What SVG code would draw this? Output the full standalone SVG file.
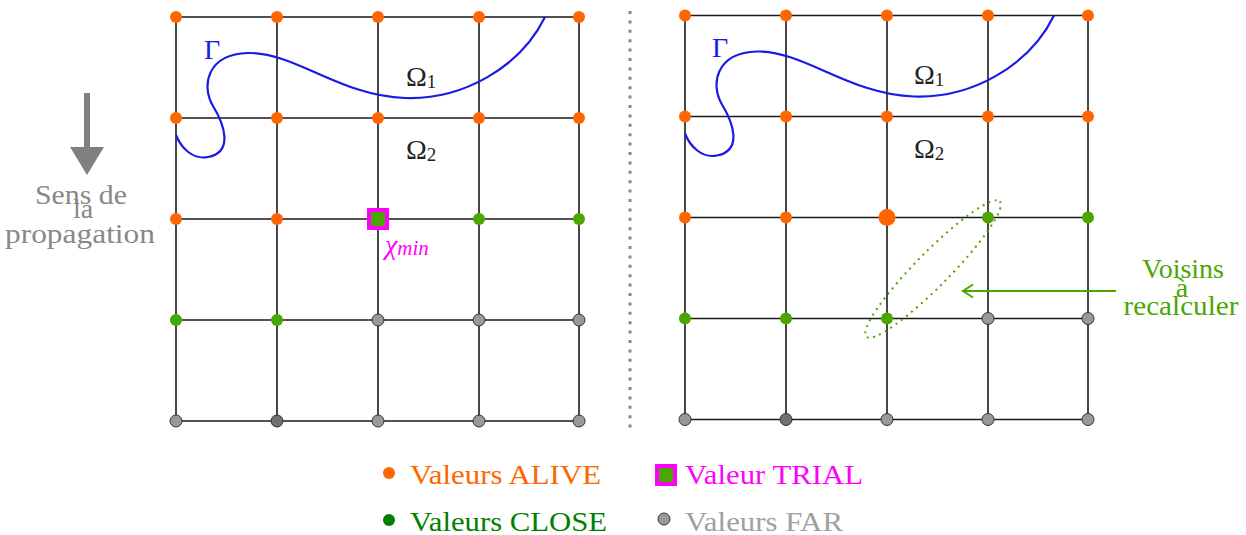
<svg xmlns="http://www.w3.org/2000/svg" width="1246" height="535" viewBox="0 0 1246 535">
<style>
.grid{stroke:#1a1a1a;stroke-width:1.6;fill:none}
.alive{fill:#ff6600}
.close{fill:#4ca600}
.far{fill:#999999;stroke:#333;stroke-width:1}
.fardk{fill:#707070;stroke:#333;stroke-width:1}
.gamma{stroke:#1a1ae6;stroke-width:2.2;fill:none}
.t{font-family:"Liberation Serif","Times New Roman",serif;font-size:28px}
.sub{font-size:19px}
.trial{fill:#4ca600;stroke:#ff00ff;stroke-width:4}
</style>
<g id="separator"><line x1="630" y1="11" x2="630" y2="428" stroke="#888" stroke-width="3" stroke-dasharray="3 6.4"/></g>
<g id="propagation">
<line x1="87" y1="93" x2="87" y2="150" stroke="#808080" stroke-width="6"/>
<polygon points="70,147 104,147 87,175" fill="#808080"/>
<text class="t" fill="#888" text-anchor="middle" x="81" y="204" textLength="92" lengthAdjust="spacingAndGlyphs">Sens de</text>
<text class="t" fill="#888" text-anchor="middle" x="83" y="218">la</text>
<text class="t" fill="#888" text-anchor="middle" x="80" y="243" textLength="150" lengthAdjust="spacingAndGlyphs">propagation</text>
</g>
<g id="left-grid">
<path class="grid" d="M176,17H579M176,118H579M176,219H579M176,320H579M176,421H579M176,17V421M277,17V421M378,17V421M479,17V421M579,17V421"/>
<path class="gamma" d="M545,17 C520,68 462,100 405,98 C340,96 295,52 248,53 C207,54 201,86 213,106 C224,124 234,152 208,157 C193,160 181,148 176,135"/>
<text class="t" fill="#1a1ae6" x="204" y="59">Γ</text>
<text class="t" fill="#222" x="406" y="86">Ω<tspan class="sub" dy="2">1</tspan></text>
<text class="t" fill="#222" x="406" y="159">Ω<tspan class="sub" dy="2">2</tspan></text>
<g class="alive">
<circle cx="176" cy="17" r="6"/><circle cx="277" cy="17" r="6"/><circle cx="378" cy="17" r="6"/><circle cx="479" cy="17" r="6"/><circle cx="579" cy="17" r="6"/>
<circle cx="176" cy="118" r="6"/><circle cx="277" cy="118" r="6"/><circle cx="378" cy="118" r="6"/><circle cx="479" cy="118" r="6"/><circle cx="579" cy="118" r="6"/>
<circle cx="176" cy="219" r="6"/><circle cx="277" cy="219" r="6"/>
</g>
<g class="close">
<circle cx="479" cy="219" r="6"/><circle cx="579" cy="219" r="6"/>
<circle cx="176" cy="320" r="6"/><circle cx="277" cy="320" r="6"/>
</g>
<g>
<circle class="far" cx="378" cy="320" r="6"/><circle class="far" cx="479" cy="320" r="6"/><circle class="far" cx="579" cy="320" r="6"/>
<circle class="far" cx="176" cy="421" r="6"/><circle class="fardk" cx="277" cy="421" r="6"/><circle class="far" cx="378" cy="421" r="6"/><circle class="far" cx="479" cy="421" r="6"/><circle class="far" cx="579" cy="421" r="6"/>
</g>
<rect class="trial" x="369" y="210" width="18" height="18"/>
<text class="t" fill="#ff00ff" font-style="italic" x="385" y="254">χ<tspan font-size="21px" dy="1">min</tspan></text>
</g>
<g id="right-grid">
<path class="grid" d="M685,15.5H1088M685,116.5H1088M685,217.5H1088M685,318.5H1088M685,419.5H1088M685,15.5V419.5M786,15.5V419.5M887,15.5V419.5M988,15.5V419.5M1088,15.5V419.5"/>
<path class="gamma" d="M1054,15.5 C1029,66.5 971,98.5 914,96.5 C849,94.5 804,50.5 757,51.5 C716,52.5 710,84.5 722,104.5 C733,122.5 743,150.5 717,155.5 C702,158.5 690,146.5 685,133.5"/>
<text class="t" fill="#1a1ae6" x="712" y="57">Γ</text>
<text class="t" fill="#222" x="914" y="84">Ω<tspan class="sub" dy="2">1</tspan></text>
<text class="t" fill="#222" x="914" y="158">Ω<tspan class="sub" dy="2">2</tspan></text>
<g class="alive">
<circle cx="685" cy="15.5" r="6"/><circle cx="786" cy="15.5" r="6"/><circle cx="887" cy="15.5" r="6"/><circle cx="988" cy="15.5" r="6"/><circle cx="1088" cy="15.5" r="6"/>
<circle cx="685" cy="116.5" r="6"/><circle cx="786" cy="116.5" r="6"/><circle cx="887" cy="116.5" r="6"/><circle cx="988" cy="116.5" r="6"/><circle cx="1088" cy="116.5" r="6"/>
<circle cx="685" cy="217.5" r="6"/><circle cx="786" cy="217.5" r="6"/><circle cx="887" cy="217.5" r="8.5"/>
</g>
<g class="close">
<circle cx="988" cy="217.5" r="6"/><circle cx="1088" cy="217.5" r="6"/>
<circle cx="685" cy="318.5" r="6"/><circle cx="786" cy="318.5" r="6"/><circle cx="887" cy="318.5" r="6"/>
</g>
<g>
<circle class="far" cx="988" cy="318.5" r="6"/><circle class="far" cx="1088" cy="318.5" r="6"/>
<circle class="far" cx="685" cy="419.5" r="6"/><circle class="fardk" cx="786" cy="419.5" r="6"/><circle class="far" cx="887" cy="419.5" r="6"/><circle class="far" cx="988" cy="419.5" r="6"/><circle class="far" cx="1088" cy="419.5" r="6"/>
</g>
</g>
<g id="neighbours">
<ellipse cx="933" cy="269" rx="95" ry="17" transform="rotate(-45.4 933 269)" fill="none" stroke="#4ca600" stroke-width="2" stroke-dasharray="2 4.5"/>
<line x1="1116" y1="291" x2="963" y2="291" stroke="#4ca600" stroke-width="2"/>
<polyline points="973,284.5 963,291 973,297.5" fill="none" stroke="#4ca600" stroke-width="2"/>
<text class="t" fill="#4ca600" text-anchor="middle" x="1183" y="278">Voisins</text>
<text class="t" fill="#4ca600" text-anchor="middle" x="1182" y="297">à</text>
<text class="t" fill="#4ca600" text-anchor="middle" x="1181" y="315" textLength="115" lengthAdjust="spacingAndGlyphs">recalculer</text>
</g>
<g id="legend">
<circle cx="389" cy="473" r="6" fill="#ff6600"/>
<text class="t" fill="#ff6600" x="410" y="484" textLength="191" lengthAdjust="spacingAndGlyphs">Valeurs ALIVE</text>
<rect class="trial" x="657" y="466" width="18" height="18"/>
<text class="t" fill="#ff00ff" x="685" y="484" textLength="178" lengthAdjust="spacingAndGlyphs">Valeur TRIAL</text>
<circle cx="389" cy="520" r="6" fill="#008000"/>
<text class="t" fill="#008000" x="410" y="531" textLength="197" lengthAdjust="spacingAndGlyphs">Valeurs CLOSE</text>
<circle cx="664" cy="519" r="6" class="far"/>
<text class="t" fill="#a0a0a0" x="685" y="531" textLength="158" lengthAdjust="spacingAndGlyphs">Valeurs FAR</text>
</g>
</svg>
